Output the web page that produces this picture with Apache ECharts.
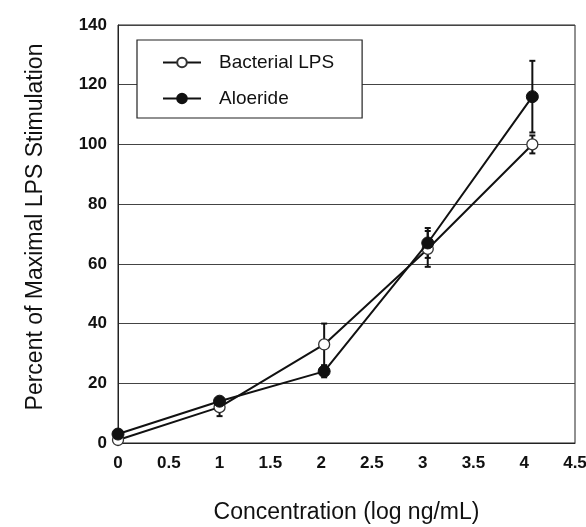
<!DOCTYPE html>
<html>
<head>
<meta charset="utf-8">
<script src="https://cdn.jsdelivr.net/npm/echarts@6/dist/echarts.min.js"></script>
<style>html,body{margin:0;padding:0;background:#fff}#c{width:586px;height:527px}</style>
</head>
<body>
<div id="c"></div>
<script>
// Data
const concentration = [0, 1, 2.03, 3.05, 4.08];
const bacterialLPS = [1, 12, 33, 65, 100];
const bacterialErr = [1, 3, 7, 6, 3];
const aloeride = [3, 14, 24, 67, 116];
const aloerideErr = [1, 1, 2, 5, 12];
const xTicks = [0, 0.5, 1, 1.5, 2, 2.5, 3, 3.5, 4, 4.5];
const yTicks = [0, 20, 40, 60, 80, 100, 120, 140];

const pts = (ys) => concentration.map((x, i) => [x, ys[i]]);
const errData = (ys, es) => concentration.map((x, i) => [x, ys[i] - es[i], ys[i] + es[i]]);

function errorBar(params, api) {
  const x = api.value(0);
  const lo = api.coord([x, api.value(1)]);
  const hi = api.coord([x, api.value(2)]);
  const w = 3;
  const st = {stroke: '#111', lineWidth: 2};
  return {
    type: 'group',
    children: [
      {type: 'line', shape: {x1: lo[0], y1: lo[1], x2: hi[0], y2: hi[1]}, style: st},
      {type: 'line', shape: {x1: hi[0] - w, y1: hi[1], x2: hi[0] + w, y2: hi[1]}, style: st},
      {type: 'line', shape: {x1: lo[0] - w, y1: lo[1], x2: lo[0] + w, y2: lo[1]}, style: st}
    ]
  };
}

const font = 'Liberation Sans, Arial, Helvetica, sans-serif';
const chart = echarts.init(document.getElementById('c'), null, {renderer: 'canvas'});
chart.setOption({
  animation: false,
  backgroundColor: '#fff',
  grid: {left: 118, right: 11, top: 25, bottom: 84, outerBoundsMode: 'none', containLabel: false,
    show: true, borderColor: '#222', borderWidth: 1},
  legend: {
    left: 137, top: 40,
    orient: 'vertical',
    padding: [13, 28, 10, 25],
    itemGap: 17,
    itemWidth: 38, itemHeight: 12,
    backgroundColor: '#fff',
    borderColor: '#222', borderWidth: 1.2, borderRadius: 0,
    textStyle: {fontFamily: font, fontSize: 19, color: '#111', padding: [0, 0, 0, 13]},
    data: ['Bacterial LPS', 'Aloeride']
  },
  xAxis: {
    type: 'value', min: 0, max: 4.5, interval: 0.5,
    name: 'Concentration (log ng/mL)', nameLocation: 'middle', nameGap: 58,
    nameTextStyle: {fontFamily: font, fontSize: 23, color: '#111'},
    axisLine: {show: true, lineStyle: {color: '#222', width: 1}},
    axisTick: {show: false},
    splitLine: {show: false},
    axisLabel: {margin: 12, fontFamily: font, fontSize: 17, fontWeight: 'bold', color: '#111',
      formatter: (v) => (xTicks.includes(v) ? String(v) : '')}
  },
  yAxis: {
    type: 'value', min: 0, max: 140, interval: 20,
    name: 'Percent of Maximal LPS Stimulation', nameLocation: 'middle', nameGap: 71,
    nameTextStyle: {fontFamily: font, fontSize: 23, color: '#111', padding: [0, 0, 0, 14]},
    axisLine: {show: true, lineStyle: {color: '#222', width: 1}},
    axisTick: {show: false},
    splitLine: {show: true, lineStyle: {color: '#444', width: 1}},
    axisLabel: {margin: 11, fontFamily: font, fontSize: 17, fontWeight: 'bold', color: '#111',
      formatter: (v) => (yTicks.includes(v) ? String(v) : '')}
  },
  series: [
    {
      type: 'custom', name: 'errB', renderItem: errorBar, data: errData(bacterialLPS, bacterialErr),
      encode: {x: 0, y: [1, 2]}, z: 3, silent: true
    },
    {
      type: 'custom', name: 'errA', renderItem: errorBar, data: errData(aloeride, aloerideErr),
      encode: {x: 0, y: [1, 2]}, z: 3, silent: true
    },
    {
      name: 'Bacterial LPS', type: 'line', data: pts(bacterialLPS),
      symbol: 'circle', symbolSize: 11, showAllSymbol: true,
      lineStyle: {color: '#111', width: 2},
      itemStyle: {color: '#fff', borderColor: '#333', borderWidth: 1.3},
      z: 4
    },
    {
      name: 'Aloeride', type: 'line', data: pts(aloeride),
      symbol: 'circle', symbolSize: 12, showAllSymbol: true,
      lineStyle: {color: '#111', width: 2},
      itemStyle: {color: '#111', borderColor: '#111', borderWidth: 1},
      z: 5
    }
  ]
});
</script>
</body>
</html>
